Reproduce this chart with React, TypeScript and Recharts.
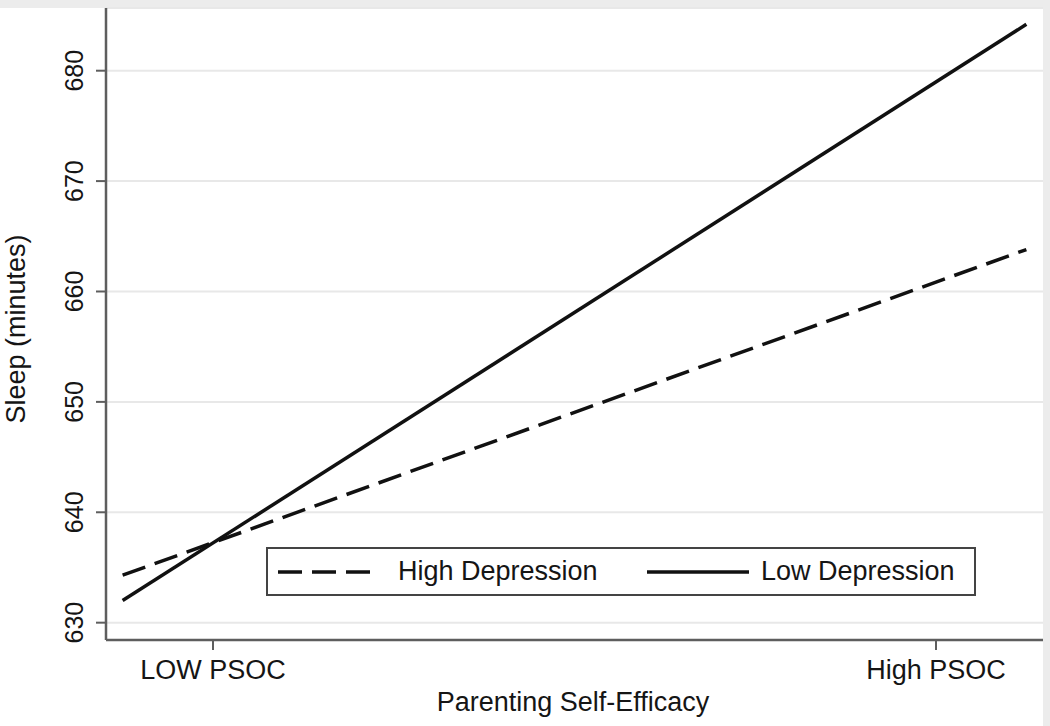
import React from 'react';
import {
    LineChart,
    Line,
    XAxis,
    YAxis,
    CartesianGrid,
    Legend,
} from 'recharts';

// x positions of the line ends (0 = LOW PSOC, 1 = High PSOC)
const psocLevels = [-0.125, 1.125];
const highDepression = [634.3, 663.8];
const lowDepression = [632.0, 684.2];

const xTicks = [0, 1];
const xTickLabels = ['LOW PSOC', 'High PSOC'];
const yTicks = [630, 640, 650, 660, 670, 680];

const seriesNames = ['High Depression', 'Low Depression'];

const chartData = psocLevels.map((x, i) => ({
    psoc: x,
    high: highDepression[i],
    low: lowDepression[i],
}));

const FONT = '"Liberation Sans", Arial, Helvetica, sans-serif';
const TEXT = '#151515';
const AXIS = '#5e5e5e';

const YTick = (props: any) => {
    const { y, payload } = props;
    return (
        <text
            x={83}
            y={y}
            transform={`rotate(-90, 83, ${y})`}
            textAnchor="middle"
            fontSize={25}
            fontFamily={FONT}
            fill={TEXT}
        >
            {payload.value}
        </text>
    );
};

const XTick = (props: any) => {
    const { x, payload } = props;
    const idx = xTicks.indexOf(payload.value);
    return (
        <text x={x} y={679} textAnchor="middle" fontSize={27} fontFamily={FONT} fill={TEXT}>
            {idx >= 0 ? xTickLabels[idx] : ''}
        </text>
    );
};

const LegendBox = (props: any) => {
    const { payload } = props;
    // keep the order of the series as drawn
    const items = (payload || []).slice().sort(
        (a: any, b: any) => seriesNames.indexOf(a.value) - seriesNames.indexOf(b.value)
    );
    const samples = [10, 379];
    const labels = [130, 493];
    return (
        <div style={{
            position: 'relative',
            width: 710,
            height: 49,
            boxSizing: 'border-box',
            border: '2px solid #444',
            background: '#fff',
            fontFamily: FONT,
            fontSize: 27,
            color: TEXT,
        }}>
            {items.map((item: any, i: number) => (
                <React.Fragment key={item.value}>
                    <svg
                        width={102}
                        height={10}
                        style={{ position: 'absolute', left: samples[i], top: 18 }}
                    >
                        <line
                            x1={0}
                            y1={5}
                            x2={102}
                            y2={5}
                            stroke="#111"
                            strokeWidth={3.5}
                            strokeDasharray={item.payload?.strokeDasharray}
                        />
                    </svg>
                    <span style={{ position: 'absolute', left: labels[i], top: 7, lineHeight: '30px', whiteSpace: 'nowrap' }}>
                        {item.value}
                    </span>
                </React.Fragment>
            ))}
        </div>
    );
};

const App: React.FC = () => {
    return (
        <div style={{
            position: 'absolute',
            top: 0,
            left: 0,
            width: 1050,
            height: 726,
            background: '#ececec',
        }}>
            <div style={{
                position: 'absolute',
                top: 8,
                left: 0,
                width: 1043,
                height: 718,
                background: '#fff',
            }} />
            <div style={{ position: 'absolute', top: 0, left: 0 }}>
                <LineChart
                    width={1050}
                    height={726}
                    data={chartData}
                    margin={{ top: 8, right: 7, bottom: 0, left: 0 }}
                >
                    <CartesianGrid
                        horizontal={true}
                        vertical={false}
                        stroke="#e8e8e8"
                        strokeWidth={2}
                    />
                    <XAxis
                        dataKey="psoc"
                        type="number"
                        domain={[-0.148, 1.148]}
                        ticks={xTicks}
                        allowDataOverflow
                        height={86}
                        tickSize={10}
                        tick={<XTick />}
                        axisLine={{ stroke: AXIS, strokeWidth: 2.5 }}
                        tickLine={{ stroke: AXIS, strokeWidth: 2 }}
                        label={{
                            content: () => (
                                <text x={573} y={711} textAnchor="middle" fontSize={27} fontFamily={FONT} fill={TEXT}>
                                    Parenting Self-Efficacy
                                </text>
                            ),
                        }}
                    />
                    <YAxis
                        type="number"
                        domain={[628.43, 685.68]}
                        ticks={yTicks}
                        allowDataOverflow
                        width={106}
                        tickSize={10}
                        tick={<YTick />}
                        axisLine={{ stroke: AXIS, strokeWidth: 2.5 }}
                        tickLine={{ stroke: AXIS, strokeWidth: 2 }}
                        label={{
                            content: () => (
                                <text
                                    x={25}
                                    y={329}
                                    transform="rotate(-90, 25, 329)"
                                    textAnchor="middle"
                                    fontSize={27}
                                    fontFamily={FONT}
                                    fill={TEXT}
                                >
                                    Sleep (minutes)
                                </text>
                            ),
                        }}
                    />
                    <Legend
                        layout="horizontal"
                        verticalAlign="middle"
                        align="center"
                        content={<LegendBox />}
                        wrapperStyle={{ left: 266, top: 547, width: 710, height: 49 }}
                    />
                    <Line
                        dataKey="high"
                        name={seriesNames[0]}
                        type="linear"
                        stroke="#111"
                        strokeWidth={3.5}
                        strokeDasharray="24 10"
                        dot={false}
                        activeDot={false}
                        isAnimationActive={false}
                    />
                    <Line
                        dataKey="low"
                        name={seriesNames[1]}
                        type="linear"
                        stroke="#111"
                        strokeWidth={3.5}
                        dot={false}
                        activeDot={false}
                        isAnimationActive={false}
                    />
                </LineChart>
            </div>
        </div>
    );
};

export default App;
